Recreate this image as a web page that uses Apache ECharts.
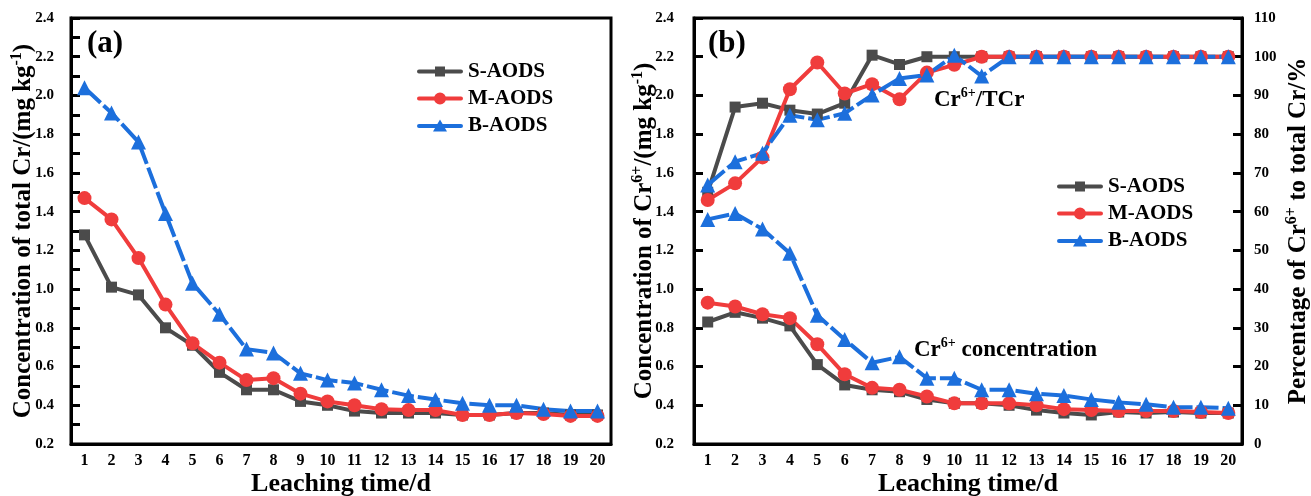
<!DOCTYPE html>
<html><head><meta charset="utf-8">
<script src="https://cdn.jsdelivr.net/npm/echarts@6/dist/echarts.min.js"></script>
<style>html,body{margin:0;padding:0;background:#fff}#c{width:1311px;height:496px}</style>
</head><body><div id="c"></div>
<script>
const days = ['1','2','3','4','5','6','7','8','9','10','11','12','13','14','15','16','17','18','19','20'];
const totalS = [1.28,1.01,0.97,0.80,0.71,0.57,0.48,0.48,0.42,0.40,0.37,0.36,0.36,0.36,0.35,0.35,0.36,0.36,0.35,0.35];
const totalM = [1.47,1.36,1.16,0.92,0.72,0.62,0.53,0.54,0.46,0.42,0.40,0.38,0.375,0.375,0.35,0.35,0.36,0.355,0.345,0.345];
const totalB = [2.04,1.91,1.76,1.39,1.03,0.87,0.69,0.67,0.565,0.53,0.515,0.48,0.45,0.43,0.41,0.40,0.40,0.38,0.37,0.37];
const cr6S = [0.83,0.88,0.85,0.81,0.61,0.505,0.48,0.47,0.43,0.41,0.41,0.40,0.375,0.36,0.35,0.365,0.36,0.365,0.36,0.36];
const cr6M = [0.93,0.91,0.87,0.85,0.715,0.56,0.49,0.48,0.445,0.41,0.41,0.41,0.40,0.38,0.375,0.37,0.37,0.37,0.365,0.36];
const cr6B = [1.36,1.39,1.31,1.185,0.865,0.74,0.62,0.65,0.54,0.54,0.48,0.48,0.46,0.45,0.43,0.415,0.405,0.39,0.39,0.385];
const pctS = [65,87,88,86.2,85.2,88,100.4,98,100,100,100,100,100,100,100,100,100,100,100,100];
const pctM = [63,67.3,74,91.6,98.5,90.5,92.9,89,95.9,97.9,100,100,100,100,100,100,100,100,100,100];
const pctB = [66.9,72.9,75.1,84.9,83.7,85.4,90.1,94.4,95.3,100.4,95,100,100,100,100,100,100,100,100,100];
const leftTicks = [0.2,2.4,0.2];
const rightTicks = [0,110,10];
const seriesNames = ['S-AODS','M-AODS','B-AODS'];

const FONT = '"Liberation Serif","Times New Roman",serif';
const colS = '#4b4b4b', colM = '#f03c3c', colB = '#1c6fdc';
const chart = echarts.init(document.getElementById('c'));
const supRich = {sup:{fontSize:16,fontWeight:'bold',fontFamily:FONT,verticalAlign:'top',lineHeight:30,color:'#000'}};

function xAx(gi){
  return {type:'category',gridIndex:gi,data:days,boundaryGap:true,
    axisLine:{lineStyle:{color:'#000',width:3}},
    axisTick:{alignWithLabel:true,inside:true,length:8,lineStyle:{width:3,color:'#000'}},
    axisLabel:{fontFamily:FONT,fontWeight:'bold',fontSize:16,color:'#000',margin:9,interval:0},
    name:'Leaching time/d',nameLocation:'middle',nameGap:27,nameMoveOverlap:false,
    nameTextStyle:{fontFamily:FONT,fontWeight:'bold',fontSize:26,color:'#000'},
    splitLine:{show:false}};
}
function yAx(gi,ticks,minor,name,pos,lblMargin,nameGap){
  return {type:'value',gridIndex:gi,min:ticks[0],max:ticks[1],interval:ticks[2],position:pos,
    axisLine:{show:true,lineStyle:{color:'#000',width:3}},
    axisTick:{show:true,inside:true,length:9,lineStyle:{width:3,color:'#000'}},
    minorTick:{show:minor,splitNumber:2,length:9,lineStyle:{width:3,color:'#000'}},
    axisLabel:{fontFamily:FONT,fontWeight:'bold',fontSize:15,color:'#000',margin:lblMargin,
      formatter:v=> ticks[2]<1 ? v.toFixed(1) : String(Math.round(v))},
    splitLine:{show:false},
    name:name,nameLocation:'middle',nameGap:nameGap,nameRotate:90,nameMoveOverlap:false,
    nameTextStyle:{fontFamily:FONT,fontWeight:'bold',fontSize:25,color:'#000',lineHeight:30,rich:supRich}};
}
function ser(name,data,xi,yi,col,sym,size,dash){
  return {name:name,type:'line',xAxisIndex:xi,yAxisIndex:yi,data:data,symbol:sym,symbolSize:size,
    lineStyle:{color:col,width:4,type:dash?[22,4]:'solid'},itemStyle:{color:col},z:3};
}
const bar = 'M2,4.5 L44,4.5 A2,2 0 0 1 44,8.5 L2,8.5 A2,2 0 0 1 2,4.5 Z ';
const legendIcons = {
  'S-AODS':'path://'+bar+'M18,1.5 L28,1.5 L28,11.5 L18,11.5 Z',
  'M-AODS':'path://'+bar+'M17,6.5 A6,6 0 1 1 29,6.5 A6,6 0 1 1 17,6.5 Z',
  'B-AODS':'path://'+bar+'M23,0 L30,12 L16,12 Z'
};
const legendData = seriesNames.map(n=>({name:n,icon:legendIcons[n]}));
const legendBase = {orient:'vertical',itemWidth:46,itemHeight:13,itemGap:6,
  textStyle:{fontFamily:FONT,fontWeight:'bold',fontSize:21,color:'#000'},data:legendData};

chart.setOption({
  animation:false,
  grid:[{left:71,top:18,width:540,height:426,show:true,borderColor:'#000',borderWidth:3,outerBoundsMode:'none',containLabel:false},
        {left:694,top:18,width:548,height:426,show:true,borderColor:'#000',borderWidth:3,outerBoundsMode:'none',containLabel:false}],
  xAxis:[xAx(0),xAx(1)],
  yAxis:[yAx(0,leftTicks,true,'Concentration of total Cr/(mg kg{sup|-1})','left',17,32),
         yAx(1,leftTicks,false,'Concentration of Cr{sup|6+}/(mg kg{sup|-1})','left',20,34),
         yAx(1,rightTicks,false,'Percentage of Cr{sup|6+} to total Cr/%','right',12,42)],
  legend:[Object.assign({left:412,top:56},legendBase),Object.assign({left:1052,top:171},legendBase)],
  series:[
    ser('S-AODS',totalS,0,0,colS,'rect',11,false),
    ser('M-AODS',totalM,0,0,colM,'circle',14,false),
    ser('B-AODS',totalB,0,0,colB,'triangle',15,true),
    ser('S-AODS',cr6S,1,1,colS,'rect',11,false),
    ser('M-AODS',cr6M,1,1,colM,'circle',14,false),
    ser('B-AODS',cr6B,1,1,colB,'triangle',15,true),
    ser('S-AODS',pctS,1,2,colS,'rect',11,false),
    ser('M-AODS',pctM,1,2,colM,'circle',14,false),
    ser('B-AODS',pctB,1,2,colB,'triangle',15,true)
  ],
  graphic:[
    {type:'text',left:87,top:28,style:{text:'(a)',font:'bold 31px '+FONT,fill:'#000'}},
    {type:'text',left:708,top:28,style:{text:'(b)',font:'bold 31px '+FONT,fill:'#000'}},
    {type:'text',left:934,top:86,style:{text:'{m|Cr}{s|6+}{m|/TCr}',
      rich:{m:{fontFamily:FONT,fontWeight:'bold',fontSize:23,lineHeight:28,color:'#000'},
            s:{fontFamily:FONT,fontWeight:'bold',fontSize:14,verticalAlign:'top',lineHeight:28,color:'#000'}}}},
    {type:'text',left:914,top:336,style:{text:'{m|Cr}{s|6+}{m| concentration}',
      rich:{m:{fontFamily:FONT,fontWeight:'bold',fontSize:23,lineHeight:28,color:'#000'},
            s:{fontFamily:FONT,fontWeight:'bold',fontSize:14,verticalAlign:'top',lineHeight:28,color:'#000'}}}}
  ]
});
</script></body></html>
